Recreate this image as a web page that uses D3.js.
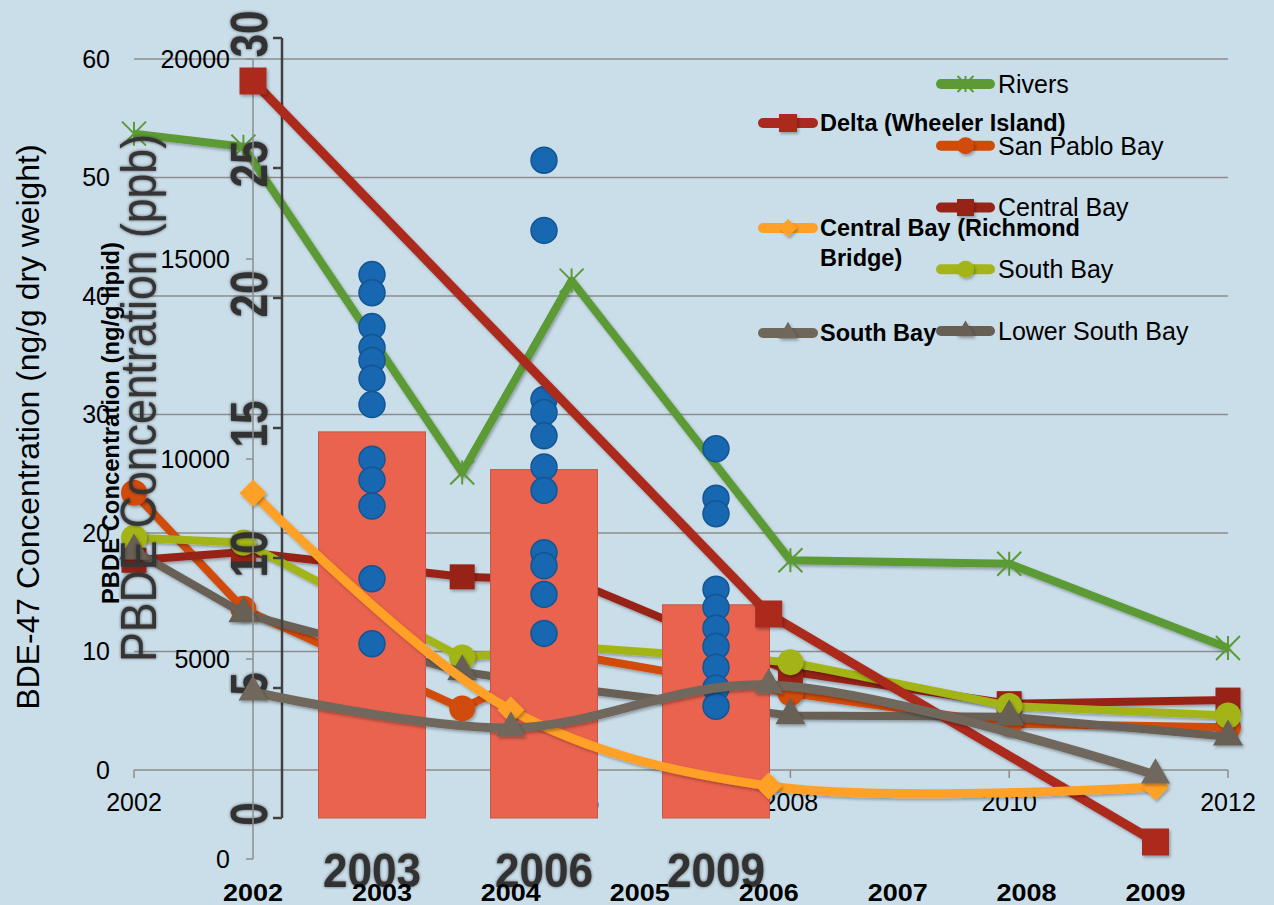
<!DOCTYPE html>
<html>
<head>
<meta charset="utf-8">
<script src="https://cdn.jsdelivr.net/npm/d3@7"></script>
<style>
  body { margin: 0; background: #cadeea; }
  svg { display: block; }
  text { font-family: "Liberation Sans", Arial, sans-serif; }
</style>
</head>
<body>
<svg></svg>
<script>
// ---- chart 1 : BDE-47 (ng/g dry weight)
var c1Years = [2002, 2003, 2005, 2006, 2008, 2010, 2012];
var riversVals = [53.7, 52.6, 25.1, 41.3, 17.7, 17.4, 10.3];
var sanPabloVals = [23.4, 13.6, 5.2, 9.7, 6.5, 3.9, 3.6];
var centralBayVals = [17.7, 18.4, 16.3, 16.0, 8.3, 5.6, 5.9];
var southBayVals = [19.6, 19.2, 9.5, 10.4, 9.1, 5.4, 4.6];
var lowerSouthBayVals = [18.5, 13.2, 8.3, 6.9, 4.6, 4.5, 2.8];
var c1YTicks = [0, 10, 20, 30, 40, 50, 60];
var c1XTicks = [2002, 2004, 2006, 2008, 2010, 2012];

// ---- chart 2 : PBDE (ng/g lipid)
var deltaYears = [2002, 2006, 2009];
var deltaVals = [19450, 6125, 425];
var c2Years = [2002, 2004, 2006, 2009];
var richmondVals = [9150, 3725, 1825, 1800];
var southBay2Vals = [4175, 3275, 4350, 2100];
var c2YTicks = [0, 5000, 10000, 15000, 20000];
var c2XTicks = [2002, 2003, 2004, 2005, 2006, 2007, 2008, 2009];

// ---- chart 3 : PBDE (ppb)
var c3Years = ["2003", "2006", "2009"];
var c3Means = [14.85, 13.4, 8.2];
var dots2003 = [20.9, 20.2, 18.9, 18.1, 17.6, 16.9, 15.9, 13.8, 13.0, 12.0, 9.2, 6.7];
var dots2006 = [25.3, 22.6, 16.1, 15.6, 14.7, 13.5, 12.6, 10.2, 9.7, 8.6, 7.1];
var dots2009 = [14.2, 12.3, 11.7, 8.8, 8.1, 7.3, 6.6, 5.8, 5.0, 4.3];
var c3YTicks = [0, 5, 10, 15, 20, 25, 30];

var W = 1274, H = 905;
var svg = d3.select("svg").attr("width", W).attr("height", H);
svg.append("rect").attr("width", W).attr("height", H).attr("fill", "#cadeea");

var defs = svg.append("defs");
var sh = defs.append("filter").attr("id", "shadow")
  .attr("x", "-40%").attr("y", "-40%").attr("width", "180%").attr("height", "180%");
sh.append("feDropShadow").attr("dx", 1.5).attr("dy", 2).attr("stdDeviation", 1.5)
  .attr("flood-color", "#000").attr("flood-opacity", 0.3);
var glow = defs.append("filter").attr("id", "glow")
  .attr("x", "-20%").attr("y", "-20%").attr("width", "140%").attr("height", "140%");
glow.append("feDropShadow").attr("dx", 0).attr("dy", 0).attr("stdDeviation", 1.6)
  .attr("flood-color", "#222").attr("flood-opacity", 0.7);

function marker(g, type, x, y, s, color) {
  if (type === "square") {
    g.append("rect").attr("x", x - s / 2).attr("y", y - s / 2).attr("width", s).attr("height", s)
      .attr("fill", color).attr("filter", "url(#shadow)");
  } else if (type === "circle") {
    g.append("circle").attr("cx", x).attr("cy", y).attr("r", s / 2)
      .attr("fill", color).attr("filter", "url(#shadow)");
  } else if (type === "triangle") {
    g.append("path").attr("d", d3.symbol(d3.symbolTriangle, s * s * 0.5)())
      .attr("transform", "translate(" + x + "," + y + ")")
      .attr("fill", color).attr("filter", "url(#shadow)");
  } else if (type === "diamond") {
    var r = s / 2;
    g.append("path").attr("d", "M0," + (-r) + "L" + r + ",0L0," + r + "L" + (-r) + ",0Z")
      .attr("transform", "translate(" + x + "," + y + ")")
      .attr("fill", color).attr("filter", "url(#shadow)");
  } else if (type === "star") {
    var h = s / 2;
    var p = "M" + (-h) + "," + (-h) + "L" + h + "," + h + "M" + (-h) + "," + h + "L" + h + "," + (-h) +
      "M0," + (-h) + "L0," + h;
    g.append("path").attr("d", p).attr("transform", "translate(" + x + "," + y + ")")
      .attr("stroke", color).attr("stroke-width", 2).attr("fill", "none");
  }
}

// ================= chart 1 (back layer)
var x1 = d3.scaleLinear().domain([2002, 2012]).range([134, 1228]);
var y1 = d3.scaleLinear().domain([0, 60]).range([770, 59]);
var g1 = svg.append("g");

g1.selectAll(".grid").data(c1YTicks.slice(1)).enter().append("line")
  .attr("x1", x1(2002)).attr("x2", x1(2012))
  .attr("y1", function (d) { return y1(d); }).attr("y2", function (d) { return y1(d); })
  .attr("stroke", "#8c8c8c").attr("stroke-width", 1.5);
g1.append("line").attr("x1", x1(2002)).attr("x2", x1(2012)).attr("y1", y1(0)).attr("y2", y1(0))
  .attr("stroke", "#8c8c8c").attr("stroke-width", 1.5);
g1.selectAll(".xt").data(c1XTicks).enter().append("line")
  .attr("x1", function (d) { return x1(d); }).attr("x2", function (d) { return x1(d); })
  .attr("y1", y1(0)).attr("y2", y1(0) + 8).attr("stroke", "#8c8c8c").attr("stroke-width", 1.5);

g1.selectAll(".yl").data(c1YTicks).enter().append("text")
  .attr("x", 110).attr("y", function (d) { return y1(d); }).attr("dy", "0.35em")
  .attr("text-anchor", "end").attr("font-size", 25).attr("fill", "#000")
  .text(function (d) { return d; });
g1.selectAll(".xl").data(c1XTicks).enter().append("text")
  .attr("x", function (d) { return x1(d); }).attr("y", 811)
  .attr("text-anchor", "middle").attr("font-size", 25).attr("fill", "#000")
  .text(function (d) { return d; });
g1.append("text").attr("transform", "translate(39,427) rotate(-90)")
  .attr("text-anchor", "middle").attr("font-size", 32).attr("fill", "#000")
  .attr("textLength", 565).attr("lengthAdjust", "spacingAndGlyphs")
  .text("BDE-47 Concentration (ng/g dry weight)");

var c1Series = [
  { name: "Rivers", vals: riversVals, color: "#5b9a35", marker: "star", ms: 24 },
  { name: "San Pablo Bay", vals: sanPabloVals, color: "#d14b08", marker: "circle", ms: 26 },
  { name: "Central Bay", vals: centralBayVals, color: "#972419", marker: "square", ms: 25 },
  { name: "South Bay", vals: southBayVals, color: "#a3b519", marker: "circle", ms: 26 },
  { name: "Lower South Bay", vals: lowerSouthBayVals, color: "#675e54", marker: "triangle", ms: 28 }
];
var line1 = d3.line().x(function (d) { return x1(d.year); }).y(function (d) { return y1(d.v); });
c1Series.forEach(function (s) {
  var pts = c1Years.map(function (yr, i) { return { year: yr, v: s.vals[i] }; })
    .filter(function (d) { return d.v !== null; });
  g1.append("path").datum(pts).attr("d", line1).attr("fill", "none")
    .attr("stroke", s.color).attr("stroke-width", 8).attr("stroke-linejoin", "round")
    .attr("filter", "url(#shadow)");
  pts.forEach(function (d) { marker(g1, s.marker, x1(d.year), y1(d.v), s.ms, s.color); });
});

// chart 1 legend
var leg1Y = d3.scalePoint().domain(c1Series.map(function (s) { return s.name; })).range([84, 331]);
c1Series.forEach(function (s) {
  var ly = leg1Y(s.name);
  g1.append("line").attr("x1", 941).attr("x2", 990).attr("y1", ly).attr("y2", ly)
    .attr("stroke", s.color).attr("stroke-width", 10).attr("stroke-linecap", "round");
  marker(g1, s.marker, 965.5, ly, s.marker === "star" ? 16 : 17, s.color);
  g1.append("text").attr("x", 998).attr("y", ly).attr("dy", "0.35em")
    .attr("font-size", 25).attr("fill", "#000").text(s.name);
});

// ================= chart 3 (middle layer)
var x3 = d3.scaleBand().domain(c3Years).range([286, 802]).paddingInner(0.378).paddingOuter(0.189);
var y3 = d3.scaleLinear().domain([0, 30]).range([818, 38]);
var g3 = svg.append("g");

g3.append("line").attr("x1", 282).attr("x2", 282).attr("y1", y3(30)).attr("y2", y3(0))
  .attr("stroke", "#404040").attr("stroke-width", 2.5);
g3.selectAll(".t3").data(c3YTicks).enter().append("line")
  .attr("x1", 273).attr("x2", 282)
  .attr("y1", function (d) { return y3(d); }).attr("y2", function (d) { return y3(d); })
  .attr("stroke", "#404040").attr("stroke-width", 2.5);
g3.selectAll(".l3").data(c3YTicks).enter().append("text")
  .attr("transform", function (d) { return "translate(267," + (y3(d) - 4) + ") rotate(-90)"; })
  .attr("text-anchor", "middle").attr("font-size", 52).attr("font-weight", "bold")
  .attr("font-family", "'Liberation Sans Narrow', 'Liberation Sans', sans-serif")
  .attr("textLength", function (d) { return String(d).length * 23.5; })
  .attr("lengthAdjust", "spacingAndGlyphs")
  .attr("fill", "#333").attr("filter", "url(#glow)")
  .text(function (d) { return d; });
g3.append("text").attr("transform", "translate(156,398) rotate(-90)")
  .attr("text-anchor", "middle").attr("font-size", 50)
  .attr("font-family", "'Liberation Sans Narrow', 'Liberation Sans', sans-serif")
  .attr("textLength", 528).attr("lengthAdjust", "spacingAndGlyphs")
  .attr("fill", "#353535").attr("filter", "url(#glow)")
  .text("PBDE Concentration (ppb)");

g3.selectAll(".bar").data(c3Years).enter().append("rect")
  .attr("x", function (d) { return x3(d); }).attr("width", x3.bandwidth())
  .attr("y", function (d, i) { return y3(c3Means[i]); })
  .attr("height", function (d, i) { return y3(0) - y3(c3Means[i]); })
  .attr("fill", "#e9634f").attr("stroke", "#c5584a").attr("stroke-width", 1);

var dotSets = [dots2003, dots2006, dots2009];
dotSets.forEach(function (set, i) {
  var cx = x3(c3Years[i]) + x3.bandwidth() / 2;
  g3.selectAll(".d" + i).data(set).enter().append("circle")
    .attr("cx", cx).attr("cy", function (d) { return y3(d); }).attr("r", 13)
    .attr("fill", "#1767b1").attr("stroke", "#145592").attr("stroke-width", 1.5);
});

g3.selectAll(".xl3").data(c3Years).enter().append("text")
  .attr("x", function (d) { return x3(d) + x3.bandwidth() / 2; }).attr("y", 887)
  .attr("text-anchor", "middle").attr("font-size", 48).attr("font-weight", "bold")
  .attr("font-family", "'Liberation Sans Narrow', 'Liberation Sans', sans-serif")
  .attr("textLength", 98).attr("lengthAdjust", "spacingAndGlyphs")
  .attr("fill", "#333").attr("filter", "url(#glow)")
  .text(function (d) { return d; });

// ================= chart 2 (front layer)
var x2 = d3.scaleLinear().domain([2002, 2009]).range([253, 1155.5]);
var y2 = d3.scaleLinear().domain([0, 20000]).range([859, 59]);
var g2 = svg.append("g");

g2.append("line").attr("x1", 253).attr("x2", 253).attr("y1", y2(20000)).attr("y2", y2(0))
  .attr("stroke", "#8c8c8c").attr("stroke-width", 1.5);
g2.selectAll(".t2").data(c2YTicks).enter().append("line")
  .attr("x1", 246).attr("x2", 253)
  .attr("y1", function (d) { return y2(d); }).attr("y2", function (d) { return y2(d); })
  .attr("stroke", "#8c8c8c").attr("stroke-width", 1.5);
g2.selectAll(".l2").data(c2YTicks).enter().append("text")
  .attr("x", 230).attr("y", function (d) { return y2(d); }).attr("dy", "0.35em")
  .attr("text-anchor", "end").attr("font-size", 25).attr("fill", "#000")
  .text(function (d) { return d; });
g2.selectAll(".xl2").data(c2XTicks).enter().append("text")
  .attr("x", function (d) { return x2(d); }).attr("y", 901)
  .attr("text-anchor", "middle").attr("font-size", 23).attr("font-weight", "bold")
  .attr("textLength", 60).attr("lengthAdjust", "spacingAndGlyphs")
  .attr("fill", "#000").text(function (d) { return d; });
g2.append("text").attr("transform", "translate(119,423) rotate(-90)")
  .attr("text-anchor", "middle").attr("font-size", 24).attr("font-weight", "bold")
  .attr("textLength", 362).attr("lengthAdjust", "spacingAndGlyphs")
  .attr("fill", "#000").text("PBDE Concentration (ng/g lipid)");

var c2Series = [
  { name: "Delta (Wheeler Island)", years: deltaYears, vals: deltaVals, color: "#ab2a1f", marker: "square", smooth: false },
  { name: "Central Bay (Richmond Bridge)", years: c2Years, vals: richmondVals, color: "#ffa126", marker: "diamond", smooth: true },
  { name: "South Bay", years: c2Years, vals: southBay2Vals, color: "#70675b", marker: "triangle", smooth: true }
];
c2Series.forEach(function (s) {
  var pts = s.years.map(function (yr, i) { return { year: yr, v: s.vals[i] }; });
  var ln = d3.line().x(function (d) { return x2(d.year); }).y(function (d) { return y2(d.v); })
    .curve(s.smooth ? d3.curveCatmullRom.alpha(0.5) : d3.curveLinear);
  g2.append("path").datum(pts).attr("d", ln).attr("fill", "none")
    .attr("stroke", s.color).attr("stroke-width", 9).attr("stroke-linejoin", "round")
    .attr("filter", "url(#shadow)");
  pts.forEach(function (d) { marker(g2, s.marker, x2(d.year), y2(d.v), 27, s.color); });
});

// chart 2 legend
var leg2 = [
  { s: c2Series[0], y: 123, lines: ["Delta (Wheeler Island)"] },
  { s: c2Series[1], y: 228, lines: ["Central Bay (Richmond", "Bridge)"] },
  { s: c2Series[2], y: 333, lines: ["South Bay"] }
];
leg2.forEach(function (l) {
  g2.append("line").attr("x1", 763).attr("x2", 813).attr("y1", l.y).attr("y2", l.y)
    .attr("stroke", l.s.color).attr("stroke-width", 10).attr("stroke-linecap", "round");
  marker(g2, l.s.marker, 788, l.y, 18, l.s.color);
  l.lines.forEach(function (t, k) {
    g2.append("text").attr("x", 820).attr("y", l.y + k * 30).attr("dy", "0.35em")
      .attr("font-size", 23.5).attr("font-weight", "bold").attr("fill", "#000").text(t);
  });
});
</script>
</body>
</html>
